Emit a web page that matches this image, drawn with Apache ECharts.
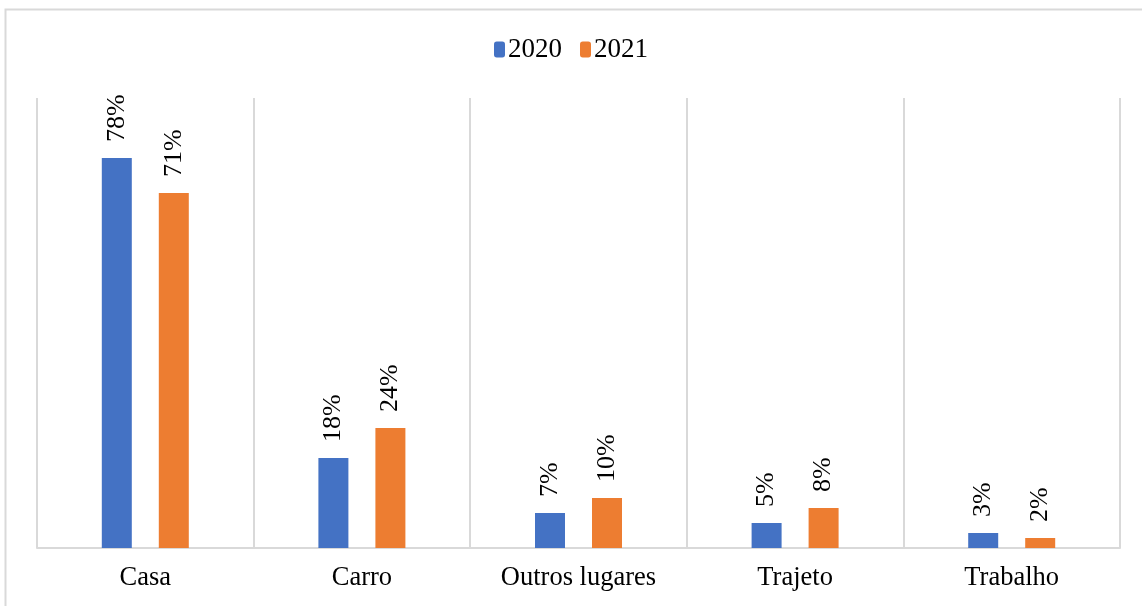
<!DOCTYPE html>
<html>
<head>
<meta charset="utf-8">
<script src="https://cdn.jsdelivr.net/npm/echarts@6/dist/echarts.min.js"></script>
<style>html,body{margin:0;padding:0;background:#fff}#c{width:1142px;height:606px}</style>
</head>
<body>
<div id="c"></div>
<script>
const categories = ['Casa', 'Carro', 'Outros lugares', 'Trajeto', 'Trabalho'];
const values2020 = [78, 18, 7, 5, 3];
const values2021 = [71, 24, 10, 8, 2];
const seriesNames = ['2020', '2021'];

const font = 'Liberation Serif, Times New Roman, serif';
const chart = echarts.init(document.getElementById('c'), null, {renderer: 'canvas'});
const label = {
  show: true, position: 'top', rotate: 90, align: 'left', verticalAlign: 'middle',
  distance: 16, formatter: '{c}%', fontFamily: font, fontSize: 26, color: '#000'
};
chart.setOption({
  animation: false,
  backgroundColor: '#fff',
  graphic: [{
    type: 'rect', left: 3, top: 7, shape: {width: 1150, height: 620},
    style: {fill: 'none', stroke: '#d9d9d9', lineWidth: 2}, silent: true
  }],
  legend: {
    data: seriesNames, top: 31, left: 'center', itemWidth: 11, itemHeight: 16, itemGap: 18,
    textStyle: {fontFamily: font, fontSize: 27, color: '#000', padding: [0, 0, 0, -2]}
  },
  grid: {left: 37, right: 22, top: 98, bottom: 58, containLabel: false},
  xAxis: {
    type: 'category', data: categories,
    axisLine: {show: true, lineStyle: {color: '#d9d9d9', width: 2}},
    axisTick: {show: false},
    splitLine: {show: true, lineStyle: {color: '#d9d9d9', width: 2}},
    axisLabel: {fontFamily: font, fontSize: 26.5, color: '#000', margin: 17, interval: 0}
  },
  yAxis: {
    type: 'value', min: 0, max: 90,
    axisLine: {show: false}, axisTick: {show: false}, axisLabel: {show: false},
    splitLine: {show: false}
  },
  series: [
    {name: seriesNames[0], type: 'bar', data: values2020, barWidth: 30, barGap: '90%',
     itemStyle: {color: '#4472c4'}, label: label},
    {name: seriesNames[1], type: 'bar', data: values2021, barWidth: 30,
     itemStyle: {color: '#ed7d31'}, label: label}
  ]
});
</script>
</body>
</html>
